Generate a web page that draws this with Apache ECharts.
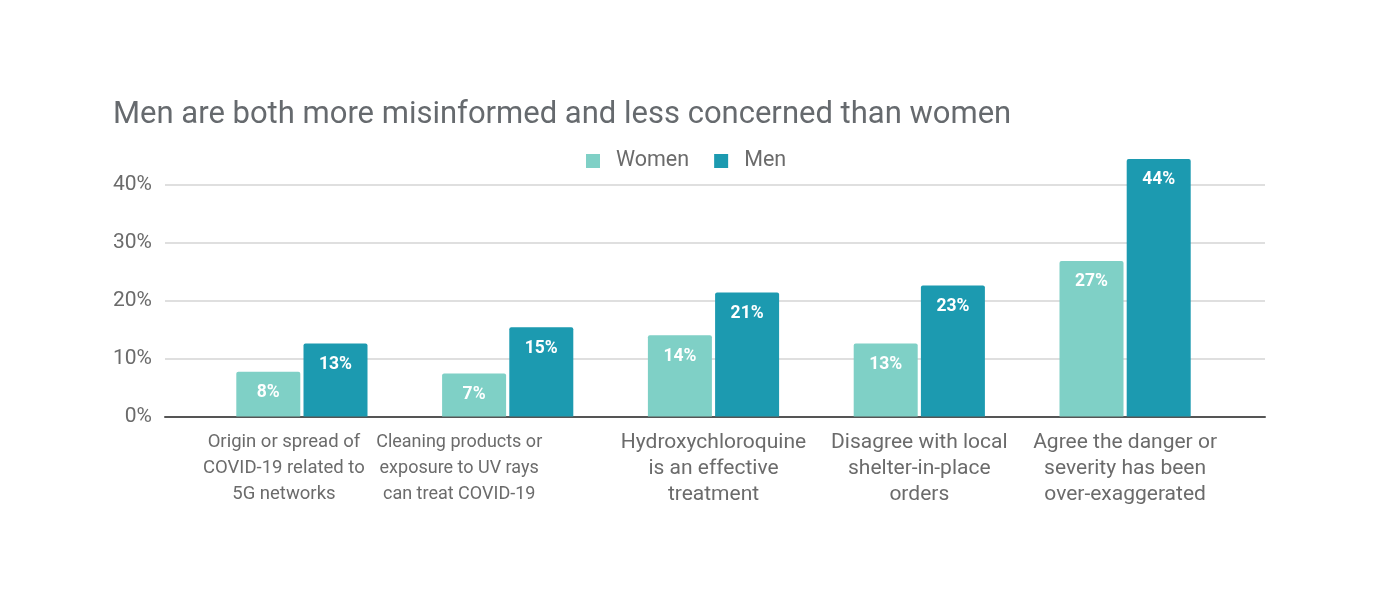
<!DOCTYPE html>
<html>
<head>
<meta charset="utf-8">
<script src="https://cdn.jsdelivr.net/npm/echarts@6/dist/echarts.min.js"></script>
<style>
html,body{margin:0;padding:0;background:#fff;}
#chart{width:1383px;height:592px;}
</style>
</head>
<body>
<div id="chart"></div>
<script>
const categories = [
  "Origin or spread of\nCOVID-19 related to\n5G networks",
  "Cleaning products or\nexposure to UV rays\ncan treat COVID-19",
  "Hydroxychloroquine\nis an effective\ntreatment",
  "Disagree with local\nshelter-in-place\norders",
  "Agree the danger or\nseverity has been\nover-exaggerated"
];
const women = [7.7, 7.4, 14.0, 12.6, 26.8];
const men = [12.6, 15.4, 21.4, 22.6, 44.4];
const yTicks = [0, 10, 20, 30, 40];
const labelShift = [36, 97, 0, 0, 0];
const labelSize = [18.5, 18, 21, 21, 21];

const chart = echarts.init(document.getElementById('chart'), null, {renderer: 'canvas'});
const FONT = 'Roboto';
const TXT = '#6b6b6b';

const option = {
  backgroundColor: '#ffffff',
  animation: false,
  title: {
    text: 'Men are both more misinformed and less concerned than women',
    left: 108, top: 95,
    textStyle: {fontFamily: FONT, fontSize: 31, fontWeight: 'normal', color: '#666a6e'}
  },
  legend: {
    left: 581, top: 145,
    icon: 'rect', itemWidth: 14, itemHeight: 14, itemGap: 25,
    textStyle: {fontFamily: FONT, fontSize: 21.5, color: TXT, padding: [0, 0, 0, 11]},
    data: ['Women', 'Men']
  },
  grid: [
    {left: 165, right: 118, top: 184.5, bottom: 175.5},
    {left: 199, right: 155, top: 184.5, bottom: 175.5}
  ],
  xAxis: [
    {
      type: 'category', gridIndex: 0, data: categories.map((c, i) => 'c' + i),
      axisLine: {show: true, lineStyle: {color: '#555', width: 2}},
      axisTick: {show: false}, axisLabel: {show: false}, splitLine: {show: false}
    },
    {
      type: 'category', gridIndex: 1, data: categories,
      axisLine: {show: false}, axisTick: {show: false},
      axisLabel: {
        interval: 0, margin: 13,
        fontFamily: FONT, fontSize: 20, color: TXT, lineHeight: 26,
        formatter: function (v, idx) {
          return v.split('\n').map(l => '{s' + idx + '|' + l + '}').join('\n');
        },
        rich: Object.fromEntries(labelShift.map((p, i) => ['s' + i, {
          fontFamily: FONT, fontSize: labelSize[i], color: TXT, lineHeight: 26, padding: [0, p, 0, 0]
        }]))
      }
    }
  ],
  yAxis: [
    {
      type: 'value', gridIndex: 0, min: 0, max: 40, interval: 10,
      axisLine: {show: false}, axisTick: {show: false},
      axisLabel: {margin: 13, fontFamily: FONT, fontSize: 21, color: TXT, formatter: v => yTicks.includes(v) ? v + '%' : ''},
      splitLine: {lineStyle: {color: '#d4d4d4', width: 1.5}}
    },
    {
      type: 'value', gridIndex: 1, min: 0, max: 40, interval: 10,
      axisLine: {show: false}, axisTick: {show: false}, axisLabel: {show: false}, splitLine: {show: false}
    }
  ],
  series: [
    {
      name: 'Women', type: 'bar', xAxisIndex: 1, yAxisIndex: 1, data: women,
      barWidth: 64, barGap: '5%', clip: false,
      itemStyle: {color: '#7fd0c6', borderRadius: [2, 2, 0, 0]},
      label: {show: true, position: 'insideTop', distance: 12, color: '#fff', fontFamily: FONT, fontWeight: 'bold', fontSize: 17.5,
        formatter: p => Math.round(p.value) + '%'}
    },
    {
      name: 'Men', type: 'bar', xAxisIndex: 1, yAxisIndex: 1, data: men,
      barWidth: 64, barGap: '5%', clip: false,
      itemStyle: {color: '#1c9ab0', borderRadius: [2, 2, 0, 0]},
      label: {show: true, position: 'insideTop', distance: 12, color: '#fff', fontFamily: FONT, fontWeight: 'bold', fontSize: 17.5,
        formatter: p => Math.round(p.value) + '%'}
    }
  ]
};
chart.setOption(option);
</script>
</body>
</html>
